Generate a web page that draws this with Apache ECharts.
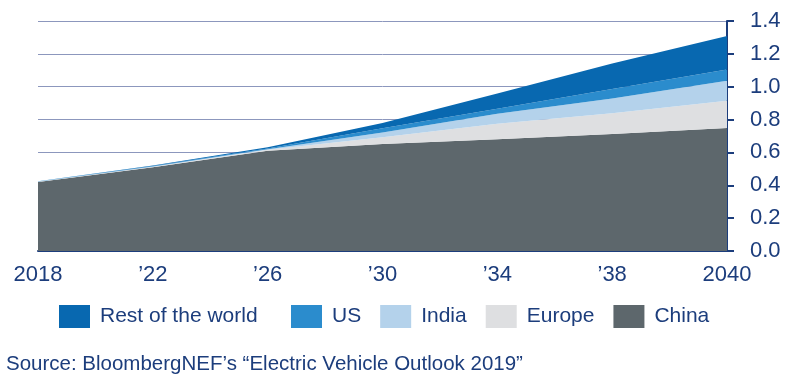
<!DOCTYPE html>
<html>
<head>
<meta charset="utf-8">
<script src="https://cdn.jsdelivr.net/npm/echarts@6/dist/echarts.min.js"></script>
<style>
html,body{margin:0;padding:0;background:#fff;}
#chart{width:800px;height:390px;}
</style>
</head>
<body>
<div id="chart"></div>
<script>
const years = ['2018', '\u201922', '\u201926', '\u201930', '\u201934', '\u201938', '2040'];
const china = [0.42, 0.51, 0.61, 0.652, 0.68, 0.712, 0.748];
const europe = [0.002, 0.003, 0.006, 0.04, 0.095, 0.126, 0.166];
const india = [0.001, 0.002, 0.004, 0.03, 0.061, 0.091, 0.122];
const us = [0.001, 0.002, 0.004, 0.025, 0.03, 0.057, 0.069];
const restOfWorld = [0.001, 0.003, 0.008, 0.032, 0.092, 0.156, 0.203];
const yTicks = [0, 0.2, 0.4, 0.6, 0.8, 1.0, 1.2, 1.4];
const sourceText = 'Source: BloombergNEF\u2019s \u201cElectric Vehicle Outlook 2019\u201d';

const navy = '#1c3d7c';
const font = "'Liberation Sans', Arial, sans-serif";

function areaSeries(name, data, color) {
  return {
    name: name, type: 'line', stack: 'total', data: data,
    showSymbol: false, symbol: 'none',
    lineStyle: { width: 0 },
    areaStyle: { color: color, opacity: 1 },
    itemStyle: { color: color },
    emphasis: { disabled: true }
  };
}

const legendBase = {
  top: 300,
  itemWidth: 31, itemHeight: 23, itemGap: 19,
  icon: 'rect',
  textStyle: { color: navy, fontSize: 21, fontFamily: font, padding: [0, 0, 0, 5] }
};

const chart = echarts.init(document.getElementById('chart'), null, { renderer: 'canvas' });
chart.setOption({
  animation: false,
  backgroundColor: '#fff',
  textStyle: { fontFamily: font },
  grid: { left: 38, right: 73, top: 21, bottom: 139, containLabel: false },
  legend: [
    Object.assign({}, legendBase, { data: ['Rest of the world'], left: 54 }),
    Object.assign({}, legendBase, { data: ['US', 'India', 'Europe', 'China'], left: 286 })
  ],
  xAxis: {
    type: 'category', data: years, boundaryGap: false,
    axisLine: { show: true, lineStyle: { color: navy, width: 2 } },
    axisTick: { show: false },
    axisLabel: { color: navy, fontSize: 22, fontFamily: font, margin: 13, interval: 0 },
    splitLine: { show: false }
  },
  yAxis: {
    type: 'value', position: 'right', min: 0, max: 1.4, interval: 0.2,
    axisLine: { show: true, lineStyle: { color: navy, width: 2 } },
    axisTick: { show: true, inside: false, length: 7, lineStyle: { color: navy, width: 2 } },
    axisLabel: { color: navy, fontSize: 22, fontFamily: font, margin: 23,
      formatter: function (v) { return v.toFixed(1); } },
    splitLine: { show: true, lineStyle: { color: '#8c97bd', width: 1 } }
  },
  series: [
    areaSeries('China', china, '#5d676c'),
    areaSeries('Europe', europe, '#dedfe1'),
    areaSeries('India', india, '#b4d2eb'),
    areaSeries('US', us, '#2b8ccd'),
    areaSeries('Rest of the world', restOfWorld, '#0868b0')
  ],
  graphic: [{
    type: 'text', left: 6, top: 354,
    style: { text: sourceText, fill: navy, font: '20.5px ' + font }
  }]
});
</script>
</body>
</html>
